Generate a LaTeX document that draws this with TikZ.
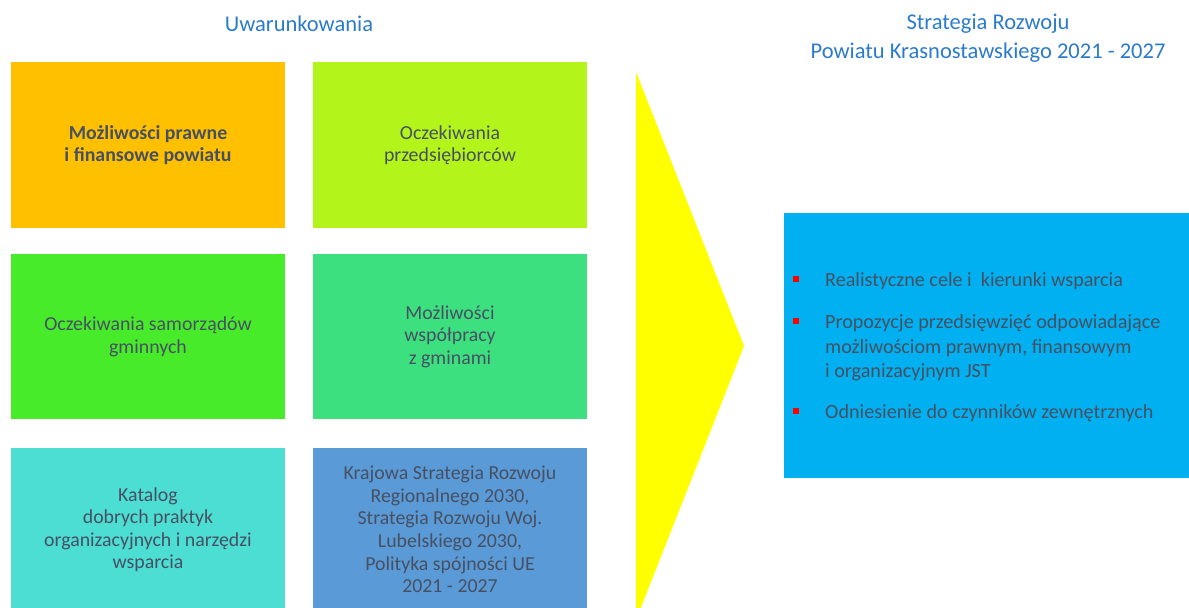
\documentclass[tikz,border=0pt]{standalone}
\usepackage{fontspec}
\setmainfont{Carlito}
\definecolor{txt}{HTML}{475063}
\definecolor{ttl}{HTML}{2B7BCB}
\definecolor{cOrange}{HTML}{FFC000}
\definecolor{cLime}{HTML}{B3F41A}
\definecolor{cGreen}{HTML}{47EB2A}
\definecolor{cMint}{HTML}{3DE07F}
\definecolor{cTurq}{HTML}{4CDDD3}
\definecolor{cBlue}{HTML}{5A9AD6}
\definecolor{cSky}{HTML}{00B0F0}
\definecolor{cRed}{HTML}{FF0000}
\definecolor{cYellow}{HTML}{FFFF00}
\begin{document}
\begin{tikzpicture}[x=1bp,y=-1bp,
  box/.style={fill=#1, draw=none, minimum width=274bp, align=center, text=txt,
    font=\fontsize{19.9}{22.6}\selectfont, inner sep=0pt},
  title/.style={text=ttl, align=center, font=\fontsize{22.6}{29}\selectfont, inner sep=0pt},
  item/.style={text=txt, align=left, anchor=base west, inner sep=0pt,
    font=\fontsize{20.2}{24.5}\selectfont},
  bullet/.style={fill=cRed, draw=none, minimum size=6bp, inner sep=0pt}]
\useasboundingbox (0,0) rectangle (1189,608);
\clip (0,0) rectangle (1189,608);
% titles
\node[title] (t1) at (299,24) {Uwarunkowania};
\node[title] (t2) at (988,38.5) {Strategia Rozwoju\\Powiatu Krasnostawskiego 2021 - 2027};
% boxes
\node[box=cOrange, minimum height=165bp] (b1) at (148,145)
  {\bfseries Możliwości prawne\\\bfseries i finansowe powiatu};
\node[box=cLime, minimum height=165bp] (b2) at (450,145)
  {Oczekiwania\\przedsiębiorców};
\node[box=cGreen, minimum height=164.5bp] (b3) at (148,336.75)
  {Oczekiwania samorządów\\gminnych};
\node[box=cMint, minimum height=164.5bp] (b4) at (450,336.75)
  {Możliwości\\współpracy\\z gminami};
\node[box=cTurq, minimum height=164bp] (b5) at (148,529.5)
  {Katalog\\dobrych praktyk\\organizacyjnych i narzędzi\\wsparcia};
\node[box=cBlue, minimum height=164bp] (b6) at (450,529.5)
  {Krajowa Strategia Rozwoju\\Regionalnego 2030,\\Strategia Rozwoju Woj.\\Lubelskiego 2030,\\Polityka spójności UE\\2021 - 2027};
% arrow (triangle)
\fill[cYellow] (636,72) -- (744,346) -- (636,620) -- cycle;
% result box
\node[fill=cSky, draw=none, minimum width=415bp, minimum height=265.5bp, inner sep=0pt,
  anchor=north west] (r) at (784,212.7) {};
\node[bullet] (p1) at (796,279.5) {};
\node[bullet] (p2) at (796,321) {};
\node[bullet] (p3) at (796,411) {};
\node[item] (i1) at (825,287) {Realistyczne cele i\ \ kierunki wsparcia};
\node[item] (i2) at (825,377.5) {Propozycje przedsięwzięć odpowiadające\\możliwościom prawnym, finansowym\\i organizacyjnym JST};
\node[item] (i3) at (825,418.5) {Odniesienie do czynników zewnętrznych};
\end{tikzpicture}
\end{document}
